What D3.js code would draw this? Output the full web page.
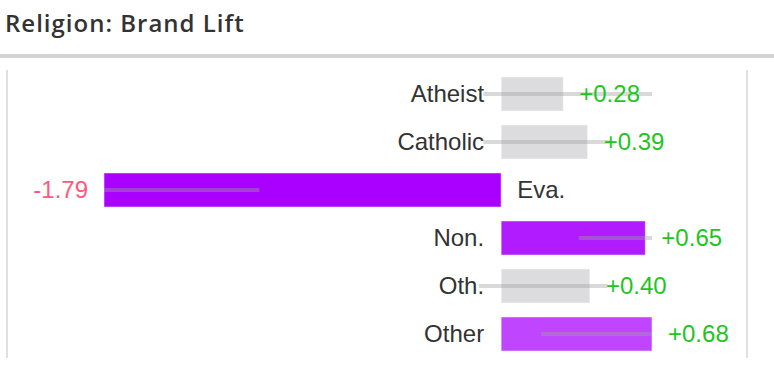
<!DOCTYPE html>
<html>
<head>
<meta charset="utf-8">
<script src="https://cdn.jsdelivr.net/npm/d3@7"></script>
<style>
  body { margin: 0; background: #fff; }
  svg { display: block; }
</style>
</head>
<body>
<svg id="chart" width="774" height="376"></svg>
<script>
// Chart data
const categories = ['Atheist', 'Catholic', 'Eva.', 'Non.', 'Oth.', 'Other'];
const lift = [0.28, 0.39, -1.79, 0.65, 0.40, 0.68];
const rangeLow = [-0.08, -0.08, -1.79, 0.35, -0.10, 0.18];
const rangeHigh = [0.68, 0.49, -1.09, 0.68, 0.48, 0.68];
const barColors = ['#dcdcde', '#dcdcde', '#aa00ff', '#b01cff', '#dcdcde', '#bf45ff'];

const WIDTH = 774;
const TOP = 70, BOTTOM = 358;

const svg = d3.select('#chart');

// Title and divider
svg.append('text')
  .text('Religion: Brand Lift')
  .attr('x', 5)
  .attr('y', 32)
  .attr('fill', '#333')
  .style('font-family', '"Open Sans", sans-serif')
  .style('font-weight', 600)
  .style('font-size', '24px')
  .style('letter-spacing', '1px');

svg.append('rect')
  .attr('x', 0).attr('y', 54)
  .attr('width', WIDTH).attr('height', 4)
  .attr('fill', '#d4d4d4');

// Panel borders
svg.append('rect').attr('x', 6).attr('y', TOP).attr('width', 2).attr('height', BOTTOM - TOP).attr('fill', '#e0e0e0');
svg.append('rect').attr('x', 746).attr('y', TOP).attr('width', 2).attr('height', BOTTOM - TOP).attr('fill', '#e0e0e0');

const rows = categories.map((c, i) => ({
  name: c, value: lift[i], low: rangeLow[i], high: rangeHigh[i], color: barColors[i]
}));

// Scales
var xScale = d3.scaleLinear()
  .domain(d3.extent(lift))
  .range([104, 652]);

var yScale = d3.scaleBand()
  .domain(categories)
  .range([TOP, BOTTOM])
  .paddingInner(0.29)
  .paddingOuter(0.145);

const x0 = xScale(0);

// Bars
svg.append('g').selectAll('rect')
  .data(rows)
  .join('rect')
  .attr('x', d => Math.min(xScale(d.value), x0))
  .attr('y', d => yScale(d.name))
  .attr('width', d => Math.abs(xScale(d.value) - x0))
  .attr('height', yScale.bandwidth())
  .attr('fill', d => d.color)
  .attr('stroke', '#fff')
  .attr('stroke-opacity', 0.5)
  .attr('stroke-width', 1);

// Range lines
svg.append('g').selectAll('line')
  .data(rows)
  .join('line')
  .attr('x1', d => xScale(d.low))
  .attr('x2', d => xScale(d.high))
  .attr('y1', d => yScale(d.name) + yScale.bandwidth() / 2)
  .attr('y2', d => yScale(d.name) + yScale.bandwidth() / 2)
  .attr('stroke', 'rgb(160,160,160)')
  .attr('stroke-opacity', 0.4)
  .attr('stroke-width', 4);

const labelFont = '"Liberation Sans", Arial, sans-serif';

// Category labels
svg.append('g').selectAll('text')
  .data(rows)
  .join('text')
  .text(d => d.name)
  .attr('x', d => d.value < 0 ? x0 + 16 : x0 - 17)
  .attr('y', d => yScale(d.name) + yScale.bandwidth() / 2)
  .attr('dy', '0.33em')
  .attr('text-anchor', d => d.value < 0 ? 'start' : 'end')
  .attr('fill', '#333')
  .style('font-family', labelFont)
  .style('font-size', '24px');

// Value labels
var fmt = d => (d > 0 ? '+' : '') + d.toFixed(2);
svg.append('g').selectAll('text')
  .data(rows)
  .join('text')
  .text(d => fmt(d.value))
  .attr('x', d => d.value < 0 ? xScale(d.value) - 16 : xScale(d.value) + 16)
  .attr('y', d => yScale(d.name) + yScale.bandwidth() / 2)
  .attr('dy', '0.33em')
  .attr('text-anchor', d => d.value < 0 ? 'end' : 'start')
  .attr('fill', d => d.value < 0 ? '#ff5a7d' : '#1ec51e')
  .style('font-family', labelFont)
  .style('font-size', '24px');
</script>
</body>
</html>
